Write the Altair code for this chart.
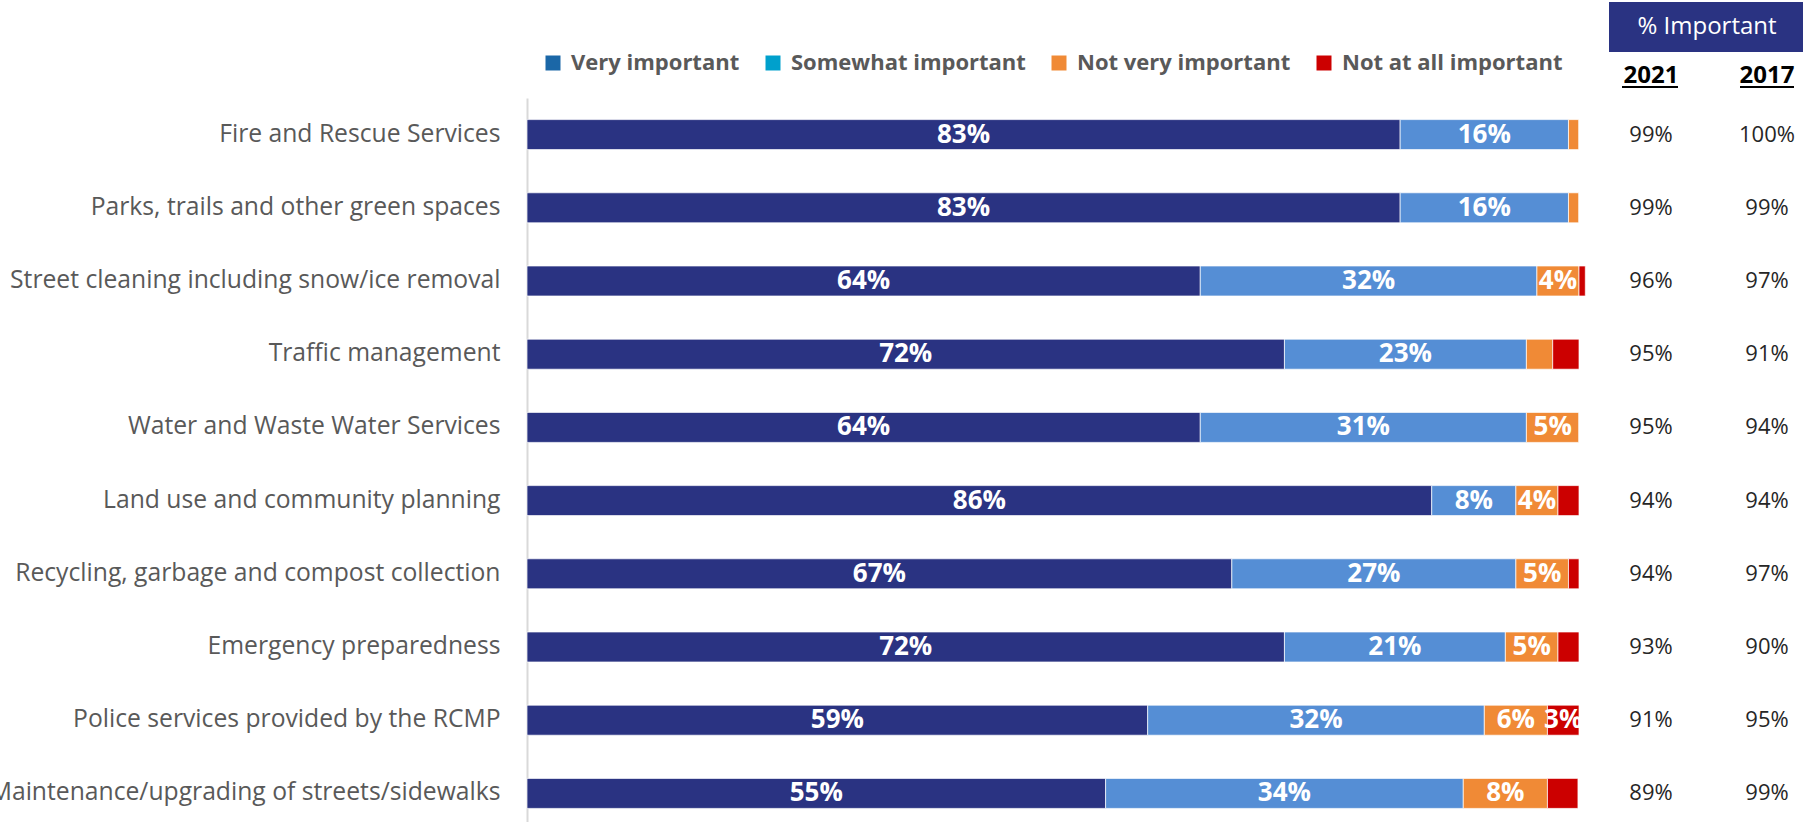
import altair as alt
import pandas as pd

# Services, top to bottom
services = [
    "Fire and Rescue Services",
    "Parks, trails and other green spaces",
    "Street cleaning including snow/ice removal",
    "Traffic management",
    "Water and Waste Water Services",
    "Land use and community planning",
    "Recycling, garbage and compost collection",
    "Emergency preparedness",
    "Police services provided by the RCMP",
    "Maintenance/upgrading of streets/sidewalks",
]

# Share of respondents (%) per rating
very_important = [83, 83, 64, 72, 64, 86, 67, 72, 59, 55]
somewhat_important = [16, 16, 32, 23, 31, 8, 27, 21, 32, 34]
not_very_important = [1, 1, 4, 2.5, 5, 4, 5, 5, 6, 8]
not_at_all_important = [0, 0, 0.6, 2.5, 0, 2, 1, 2, 3, 2.9]

# "% Important" summary columns
important_2021 = [99, 99, 96, 95, 95, 94, 94, 93, 91, 89]
important_2017 = [100, 99, 97, 91, 94, 94, 97, 90, 95, 99]

series_names = ["Very important", "Somewhat important", "Not very important", "Not at all important"]
bar_colors = ["#2A3382", "#558ED5", "#F08A36", "#CC0000"]
legend_colors = ["#1B67A7", "#00A0CC", "#F08A36", "#CC0000"]

FONT = "Open Sans"

rows = []
for i, svc in enumerate(services):
    for k, vals in enumerate([very_important, somewhat_important, not_very_important, not_at_all_important]):
        rows.append({"service": svc, "series": series_names[k], "order": k, "value": vals[i]})
bars_df = pd.DataFrame(rows)

summary_df = pd.DataFrame({
    "service": services,
    "y2021": [f"{v}%" for v in important_2021],
    "y2017": [f"{v}%" for v in important_2017],
})

PLOT_W = 1276
PLOT_H = 724

y_enc = alt.Y(
    "service:N",
    sort=services,
    scale=alt.Scale(range=[0, 732], paddingInner=0.59, paddingOuter=0.295),
    axis=alt.Axis(
        title=None,
        labelFont=FONT,
        labelFontSize=24.7,
        labelColor="#595959",
        labelPadding=27,
        labelLimit=1000,
        ticks=False,
        domainColor="#D9D9D9",
        domainWidth=2,
        grid=False,
    ),
)

x_scale = alt.Scale(domain=[0, 100], range=[0, 1052])

stacked = alt.Chart(bars_df).transform_stack(
    stack="value",
    groupby=["service"],
    as_=["x0", "x1"],
    sort=[alt.SortField("order", order="ascending")],
).transform_calculate(
    mid="(datum.x0 + datum.x1) / 2",
    label="format(datum.value, '.0f') + '%'",
)

bars = stacked.mark_bar(stroke="white", strokeWidth=1, strokeOpacity=0.7).encode(
    x=alt.X("x0:Q", scale=x_scale, axis=None),
    x2="x1:Q",
    y=y_enc,
    color=alt.Color(
        "series:N",
        scale=alt.Scale(domain=series_names, range=bar_colors),
        legend=None,
    ),
)

bar_labels = stacked.transform_filter("datum.value >= 3").mark_text(
    font=FONT, fontSize=26, fontWeight="bold", color="white", baseline="middle", align="center"
).encode(
    x=alt.X("mid:Q", scale=x_scale, axis=None),
    y=alt.Y("service:N", sort=services),
    text="label:N",
)

# Legend carried by an empty layer so its swatches keep their own palette
legend_layer = alt.Chart(bars_df).transform_filter("false").mark_square(filled=True, opacity=1).encode(
    color=alt.Color(
        "series:N",
        scale=alt.Scale(domain=series_names, range=legend_colors),
        legend=alt.Legend(
            title=None,
            orient="none",
            direction="horizontal",
            legendX=15,
            legendY=-46,
            symbolType="square",
            symbolSize=225,
            symbolStrokeWidth=0,
            symbolOpacity=1,
            labelFont=FONT,
            labelFontSize=22,
            labelFontWeight="bold",
            labelColor="#595959",
            labelOffset=7,
            columnPadding=22,
            labelLimit=400,
        ),
    ),
)

col_2021 = alt.Chart(summary_df).mark_text(
    font=FONT, fontSize=22, color="#262626", align="center", baseline="middle"
).encode(x=alt.value(1124), y=alt.Y("service:N", sort=services), text="y2021:N")

col_2017 = alt.Chart(summary_df).mark_text(
    font=FONT, fontSize=22, color="#262626", align="center", baseline="middle"
).encode(x=alt.value(1240), y=alt.Y("service:N", sort=services), text="y2017:N")

header_df = pd.DataFrame({"title": ["% Important"]})
header_box = alt.Chart(header_df).mark_rect(color="#2A3382").encode(
    x=alt.value(1082), x2=alt.value(PLOT_W), y=alt.value(-96), y2=alt.value(-46)
)
header_text = alt.Chart(header_df).mark_text(
    font=FONT, fontSize=24, color="white", align="center", baseline="middle"
).encode(x=alt.value(1180), y=alt.value(-71), text="title:N")

years_df = pd.DataFrame({"year": ["2021", "2017"]})
year_2021 = alt.Chart(years_df).transform_filter("datum.year == '2021'").mark_text(
    font=FONT, fontSize=24, fontWeight="bold", color="black", align="center", baseline="middle"
).encode(x=alt.value(1124), y=alt.value(-22), text="year:N")
year_2017 = alt.Chart(years_df).transform_filter("datum.year == '2017'").mark_text(
    font=FONT, fontSize=24, fontWeight="bold", color="black", align="center", baseline="middle"
).encode(x=alt.value(1240), y=alt.value(-22), text="year:N")
underline_2021 = alt.Chart(header_df).mark_rule(color="black", strokeWidth=2).encode(
    x=alt.value(1095), x2=alt.value(1151), y=alt.value(-11)
)
underline_2017 = alt.Chart(header_df).mark_rule(color="black", strokeWidth=2).encode(
    x=alt.value(1213), x2=alt.value(1267), y=alt.value(-11)
)

chart = alt.layer(
    bars, bar_labels, legend_layer, col_2021, col_2017,
    header_box, header_text, year_2021, year_2017, underline_2021, underline_2017,
).resolve_scale(color="independent").properties(
    width=PLOT_W,
    height=PLOT_H,
    padding={"left": 527, "top": 98, "right": 0, "bottom": 0},
    autosize=alt.AutoSizeParams(type="none"),
    background="white",
).configure_view(stroke=None)

chart.save("out.html", embed_options={"renderer": "svg", "actions": False})
